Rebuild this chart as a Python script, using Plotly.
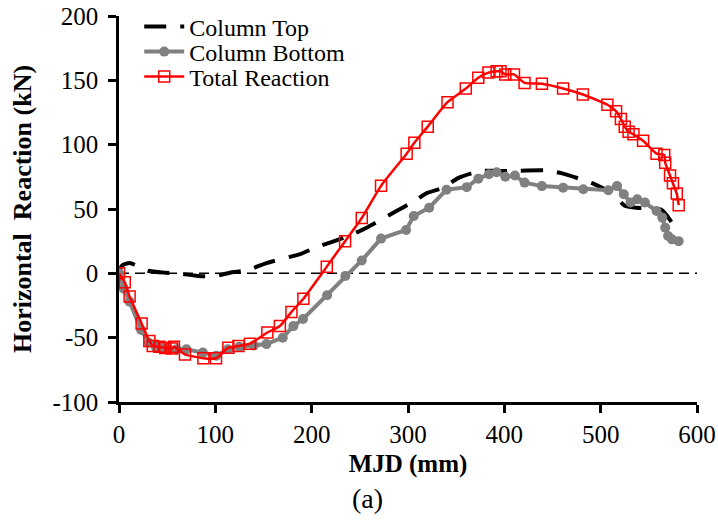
import plotly.graph_objects as go

# Column Top (black dashed)
top_x = [0, 3, 11, 23, 30, 48, 60, 82, 101, 115, 134, 153, 188, 206, 238, 257, 287, 304, 320, 337,
         352, 375, 406, 441, 460, 493, 513, 525, 537, 563, 579]
top_y = [0, 6, 8, 4.5, 2, 0.5, 0, -2, -2, 0.5, 2.6, 8, 15, 20.5, 29, 35.5, 48, 55, 62.5, 66.6,
         74, 79.5, 79.5, 80, 77.7, 69.5, 61.4, 52.5, 51, 49.5, 33.5]

# Column Bottom (gray circles)
bot_x = [0, 5, 11, 23, 31, 38, 45, 52, 60, 70, 87, 101, 113, 125, 140, 153, 170, 181, 191, 216,
         235, 252, 272, 298, 306, 322, 340, 361, 373, 384, 392, 401, 411, 421, 439, 461, 482, 508,
         517, 524, 531, 538, 546, 558, 564, 567, 570, 574, 581]
bot_y = [0, -12, -22, -44, -54, -57, -58, -59, -59, -59, -61.6, -64, -59, -57, -56, -55, -50, -41,
         -35.5, -17, -2, 10, 27, 33.7, 44.5, 51, 65, 67, 73.6, 77, 78.5, 75, 76, 70.5, 67.8, 66.6,
         65.3, 64.6, 67.8, 61.4, 55, 57.5, 55, 48.4, 43.3, 35.5, 29, 26.4, 25]

# Total Reaction (red squares)
tot_x = [0, 6, 11, 23.5, 31.5, 35, 42, 48, 55, 57, 68.5, 87.6, 100.7, 113.5, 124, 136, 154, 167,
         179, 191.4, 215.7, 234.7, 252, 272, 298.6, 306.6, 320.5, 341, 360, 373, 383.5, 392, 396,
         401, 410, 421, 439, 461, 481.5, 507, 516, 521, 525, 529, 534, 544, 558, 566, 567, 572,
         575, 579, 581]
tot_y = [0, -7, -18, -39, -52.6, -56.5, -57, -58, -58.5, -57, -63, -66, -66, -57.8, -56.5, -54.7,
         -46, -41, -30, -19.7, 5.2, 25, 43, 68, 93, 101.5, 114, 133, 143.6, 152, 156, 157, 157,
         154.6, 154.6, 148, 147.4, 143.7, 139, 131, 126, 120, 114, 110, 108, 103, 93, 92, 86, 76,
         70, 62, 53]

x_ticks = [0, 100, 200, 300, 400, 500, 600]
y_ticks = [-100, -50, 0, 50, 100, 150, 200]

FONT = "Liberation Serif, Times New Roman, serif"
PLOT_T, PLOT_B = 16, 402
PLOT_H = PLOT_B - PLOT_T


def row_y(px):
    return 1 - (px - PLOT_T) / PLOT_H


fig = go.Figure()
fig.add_trace(go.Scatter(x=top_x, y=top_y, mode="lines", name="Column Top", legend="legend",
                         line=dict(color="black", width=4, dash="22px,14px", shape="spline", smoothing=0.6)))
fig.add_trace(go.Scatter(x=bot_x, y=bot_y, mode="lines+markers", name="Column Bottom", legend="legend2",
                         line=dict(color="#808080", width=4),
                         marker=dict(symbol="circle", size=10, color="#808080")))
fig.add_trace(go.Scatter(x=tot_x, y=tot_y, mode="lines+markers", name="Total Reaction", legend="legend3",
                         line=dict(color="red", width=2.5, shape="spline", smoothing=0.5),
                         marker=dict(symbol="square-open", size=11, color="red", line=dict(width=1.5))))

fig.add_shape(type="line", xref="paper", x0=0, x1=1, yref="y", y0=0, y1=0,
              line=dict(color="black", width=1.5, dash="10px,6px"), layer="below")

fig.add_annotation(text="(a)", xref="paper", yref="paper", x=(367 - 119) / 578, y=row_y(498),
                   xanchor="center", yanchor="middle",
                   showarrow=False, font=dict(family=FONT, size=28, color="black"))

axis_common = dict(showline=True, linecolor="black", linewidth=2.5, ticks="outside", ticklen=8,
                   tickwidth=2.5, tickcolor="black", showgrid=False, zeroline=False, automargin=False,
                   tickfont=dict(family=FONT, size=25, color="black"))

leg_common = dict(xanchor="left", yanchor="middle", bgcolor="rgba(0,0,0,0)",
                  font=dict(family=FONT, size=24, color="black"), itemwidth=40, borderwidth=0)

fig.update_layout(
    width=718, height=524,
    margin=dict(l=119, r=21, t=PLOT_T, b=524 - PLOT_B, autoexpand=False),
    paper_bgcolor="white", plot_bgcolor="white",
    xaxis=dict(range=[0, 600], tickvals=x_ticks, ticktext=[str(v) for v in x_ticks],
               title=dict(text="<b>MJD (mm)</b>", font=dict(family=FONT, size=25, color="black"), standoff=8),
               **axis_common),
    yaxis=dict(range=[-100, 200], tickvals=y_ticks, ticktext=[str(v) for v in y_ticks],
               ticklabelstandoff=5,
               title=dict(text="<b>Horizontal\u00a0 Reaction (kN)</b>", font=dict(family=FONT, size=26, color="black"), standoff=14),
               **axis_common),
    legend=dict(x=0.035, y=row_y(27), **leg_common),
    legend2=dict(x=0.035, y=row_y(52), **leg_common),
    legend3=dict(x=0.035, y=row_y(77), **leg_common),
    showlegend=True,
)

fig.write_html("out.html")
